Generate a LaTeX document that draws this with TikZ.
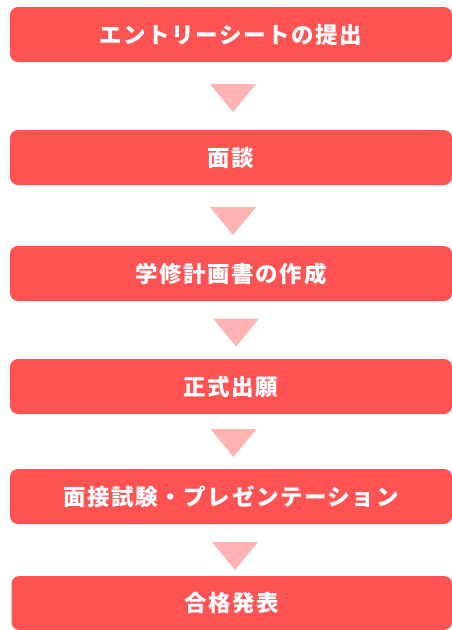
\documentclass[tikz,border=0pt]{standalone}
\usepackage{fontspec}
\newfontfamily\cjk[LetterSpace=7]{Noto Sans CJK JP}
\definecolor{boxred}{RGB}{255,82,82}
\definecolor{tripink}{RGB}{255,179,179}
\begin{document}
\begin{tikzpicture}[x=1pt,y=-1pt,
  stepbox/.style={fill=boxred,rounded corners=8pt,inner sep=0pt,
    minimum width=442pt,minimum height=55pt,text=white,
    font=\cjk\bfseries\fontsize{22.5}{26}\selectfont},
  tri/.style={fill=tripink}]
\useasboundingbox (0,0) rectangle (452,630);
\node[stepbox] (b1) at (231,34.5) {エントリーシートの提出};
\node[stepbox] (b2) at (231,157.5) {面談};
\node[stepbox] (b3) at (231,273.5) {学修計画書の作成};
\node[stepbox] (b4) at (231,386.5) {正式出願};
\node[stepbox] (b5) at (231,496.5) {面接試験・プレゼンテーション};
\node[stepbox,minimum width=440.5pt,minimum height=54pt] (b6) at (231.75,603) {合格発表};
\coordinate (t1) at (233,84);
\coordinate (t2) at (233,207);
\coordinate (t3) at (236,318.5);
\coordinate (t4) at (233.5,429);
\coordinate (t5) at (235,542);
\foreach \t in {t1,t2,t3,t4,t5}{
  \fill[tri] (\t) ++(-23,0) -- ++(46,0) -- ++(-23,28) -- cycle;
}
\end{tikzpicture}
\end{document}
